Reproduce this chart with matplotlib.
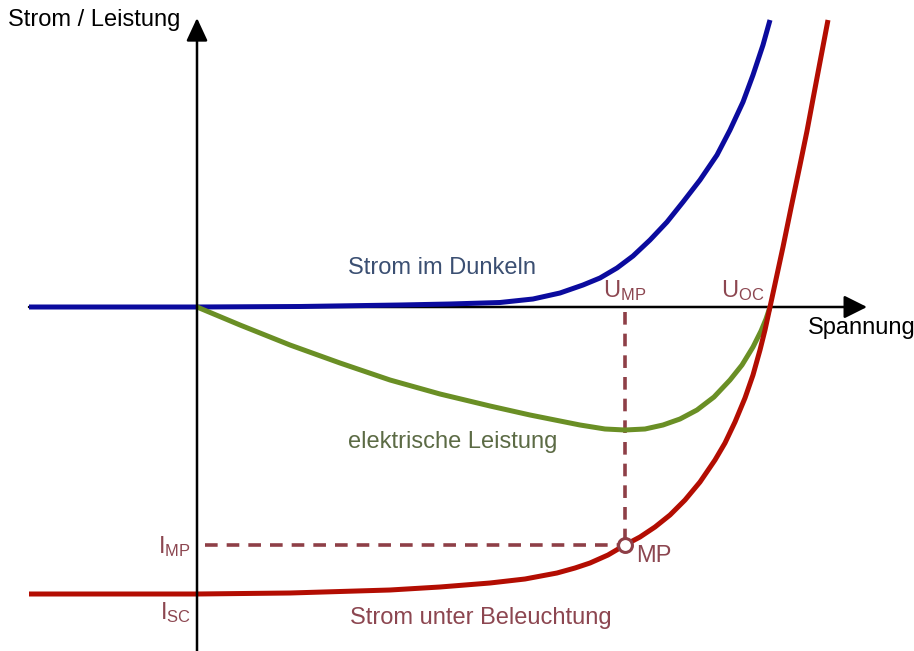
import matplotlib.pyplot as plt

plt.rcParams['font.family'] = ['Liberation Sans', 'DejaVu Sans']
plt.rcParams['mathtext.fontset'] = 'custom'
plt.rcParams['mathtext.rm'] = 'Liberation Sans'
plt.rcParams['mathtext.it'] = 'Liberation Sans'

# Spannung in V, Strom in mA, Leistung in willkürlichen Einheiten
u_dunkel = [-0.168, 0.0, 0.103, 0.203, 0.253, 0.303, 0.336, 0.363, 0.386, 0.403, 0.420,
            0.436, 0.453, 0.470, 0.486, 0.503, 0.520, 0.533, 0.546, 0.556, 0.566, 0.573]
i_dunkel = [0.0, 0.0, 0.05, 0.2, 0.3, 0.45, 0.8, 1.4, 2.2, 2.9, 3.9,
            5.1, 6.7, 8.5, 10.5, 12.7, 15.2, 17.7, 20.5, 23.2, 26.2, 28.7]

u_hell = [-0.168, 0.0, 0.093, 0.193, 0.243, 0.293, 0.328, 0.360, 0.378, 0.393, 0.411,
          0.428, 0.443, 0.458, 0.473, 0.488, 0.503, 0.518, 0.528, 0.538, 0.548, 0.556,
          0.563, 0.568, 0.573, 0.578, 0.586, 0.594, 0.603, 0.610, 0.616, 0.623, 0.631]
i_hell = [-28.7, -28.7, -28.6, -28.3, -28.0, -27.6, -27.2, -26.6, -26.1, -25.6, -24.8,
          -23.8, -23.0, -22.0, -20.8, -19.3, -17.5, -15.3, -13.6, -11.5, -9.1, -6.8,
          -4.3, -2.3, 0.0, 2.3, 6.0, 9.9, 14.2, 17.6, 20.8, 24.5, 28.7]

u_leistung = [0.0, 0.043, 0.093, 0.143, 0.193, 0.243, 0.293, 0.333, 0.358, 0.383, 0.408,
              0.428, 0.448, 0.466, 0.483, 0.500, 0.517, 0.533, 0.545, 0.556, 0.564,
              0.569, 0.573]
p_leistung = [0.0, -1.8, -3.8, -5.6, -7.3, -8.7, -9.9, -10.8, -11.3, -11.8, -12.2,
              -12.3, -12.2, -11.8, -11.2, -10.3, -9.0, -7.3, -5.8, -4.0, -2.4,
              -1.2, 0.0]

u_mp, i_mp = 0.428, -23.8
u_oc = 0.573

blau = '#0b0b9e'
rot = '#b30d02'
gruen = '#6a8f25'
braun = '#8e3f47'
text_rot = '#8c4650'

fig = plt.figure(figsize=(9.14, 6.51), dpi=100)
ax = fig.add_axes([0, 0, 1, 1])
ax.set_xlim(-0.197, 0.717)
ax.set_ylim(-34.4, 30.7)
ax.axis('off')

# Achsen
ax.annotate('', xy=(0.670, 0), xytext=(-0.168, 0),
            arrowprops=dict(arrowstyle='-|>,head_length=1.4,head_width=0.7', mutation_scale=10,
                            color='black', lw=1.8, shrinkA=0, shrinkB=0), zorder=1)
ax.annotate('', xy=(0, 28.9), xytext=(0, -34.5),
            arrowprops=dict(arrowstyle='-|>,head_length=1.4,head_width=0.65', mutation_scale=10,
                            color='black', lw=1.8, shrinkA=0, shrinkB=0), zorder=4)

# Hilfslinien zum MPP
ax.plot([u_mp, u_mp], [-0.5, i_mp], color=braun, lw=2.6, dashes=(3.5, 2.5), zorder=2)
ax.plot([0.008, u_mp], [i_mp, i_mp], color=braun, lw=2.6, dashes=(3.5, 2.5), zorder=2)

# Kennlinien
ax.plot(u_dunkel, i_dunkel, color=blau, lw=3.6, solid_capstyle='butt', solid_joinstyle='round', zorder=3)
ax.plot(u_leistung, p_leistung, color=gruen, lw=3.6, solid_capstyle='butt', solid_joinstyle='round', zorder=3)
ax.plot(u_hell, i_hell, color=rot, lw=3.6, solid_capstyle='butt', solid_joinstyle='round', zorder=3)
ax.plot([u_mp], [i_mp], 'o', ms=10, mfc='white', mec=braun, mew=2.2, zorder=5)

# Beschriftung
ax.text(-0.189, 28.7, 'Strom / Leistung', fontsize=17, va='center', ha='left')
ax.text(0.611, -2.1, 'Spannung', fontsize=17, va='center', ha='left')
ax.text(0.151, 3.9, 'Strom im Dunkeln', fontsize=17, va='center', color='#3b4f72')
ax.text(0.151, -13.5, 'elektrische Leistung', fontsize=17, va='center', color='#5c6b45')
ax.text(0.153, -31.1, 'Strom unter Beleuchtung', fontsize=17, va='center', color=text_rot)
ax.text(u_mp, 0.4, r'U$_{\mathrm{MP}}$', fontsize=17, ha='center', va='bottom', color=text_rot)
ax.text(0.546, 0.4, r'U$_{\mathrm{OC}}$', fontsize=17, ha='center', va='bottom', color=text_rot)
ax.text(-0.006, -24.0, r'I$_{\mathrm{MP}}$', fontsize=17, ha='right', va='center', color=text_rot)
ax.text(-0.006, -30.6, r'I$_{\mathrm{SC}}$', fontsize=17, ha='right', va='center', color=text_rot)
ax.text(0.439, -24.9, 'MP', fontsize=17, ha='left', va='center', color=text_rot)

fig.savefig('out.png', dpi=100)
